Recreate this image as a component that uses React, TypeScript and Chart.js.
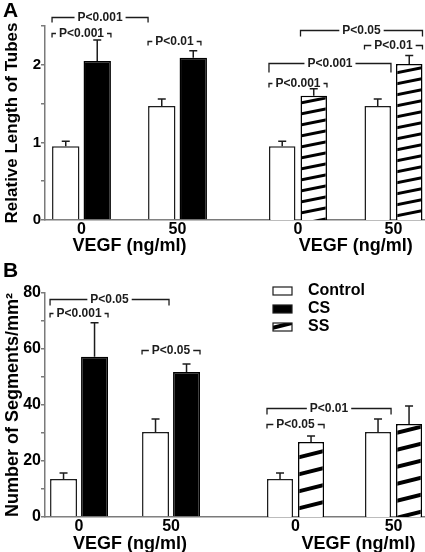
import React, { useEffect, useRef } from "react";
import { Chart, registerables } from "chart.js";

Chart.register(...registerables);

// ---------- data ----------
const DOSES = ["0", "50"];
const SERIES_NAMES = ["Control", "CS", "SS"];
const X_TITLE = "VEGF (ng/ml)";

// Panel A: relative length of tubes
const TUBES_CONTROL = [0.95, 1.47];
const TUBES_CONTROL_ERR = [0.065, 0.09];
const TUBES_CS = [2.05, 2.09];
const TUBES_CS_ERR = [0.27, 0.09];
const TUBES_SS = [1.6, 2.01];
const TUBES_SS_ERR = [0.09, 0.11];
const TUBES_LABELLED_TICKS = [0, 1, 2];

// Panel B: number of segments / mm2
const SEG_CONTROL = [13.6, 30.4];
const SEG_CONTROL_ERR = [2.1, 4.6];
const SEG_CS = [57.2, 51.8];
const SEG_CS_ERR = [12.2, 2.8];
const SEG_SS = [26.8, 33.2];
const SEG_SS_ERR = [2.1, 6.4];
const SEG_LABELLED_TICKS = [0, 20, 40, 60, 80];

// significance brackets: [datasetIndex, doseIndex, fraction across bar]
type Ref = [number, number, number];
type Bracket = { text: string; from: Ref; to: Ref; level: number; drop: number };

const BRACKETS_A_CS: Bracket[] = [
  { text: "P<0.001", from: [0, 0, 0], to: [0, 1, 0], level: 2.615, drop: 5 },
  { text: "P<0.001", from: [0, 0, 0], to: [1, 0, 1], level: 2.41, drop: 4 },
  { text: "P<0.01", from: [0, 1, 0], to: [1, 1, 0.78], level: 2.31, drop: 4 },
];
const BRACKETS_A_SS: Bracket[] = [
  { text: "P<0.05", from: [1, 0, 0], to: [1, 1, 1], level: 2.45, drop: 6 },
  { text: "P<0.01", from: [0, 1, 0], to: [1, 1, 1], level: 2.26, drop: 4 },
  { text: "P<0.001", from: [0, 0, 0], to: [0, 1, 1], level: 2.02, drop: 9 },
  { text: "P<0.001", from: [0, 0, 0], to: [1, 0, 1], level: 1.77, drop: 4 },
];
const BRACKETS_B_CS: Bracket[] = [
  { text: "P<0.05", from: [0, 0, 0], to: [0, 1, 1], level: 77.9, drop: 6 },
  { text: "P<0.001", from: [0, 0, 0], to: [1, 0, 1], level: 72.9, drop: 4 },
  { text: "P<0.05", from: [0, 1, 0], to: [1, 1, 1], level: 59.6, drop: 4 },
];
const BRACKETS_B_SS: Bracket[] = [
  { text: "P<0.01", from: [0, 0, 0], to: [0, 1, 1], level: 38.9, drop: 6 },
  { text: "P<0.05", from: [0, 0, 0], to: [1, 0, 1], level: 33.2, drop: 4 },
];

// ---------- style ----------
const FONT = "'Liberation Sans', Arial, Helvetica, sans-serif";
const AXIS = "#7a7a7a";
const INK = "#1c1c1c";

type Kind = "control" | "cs" | "ss";
type Series = { name: string; kind: Kind; values: number[]; errors: number[] };

interface Spec {
  left: number; top: number; width: number; height: number;
  padTop: number; xHeight: number; yWidth: number;
  xMin: number; xMax: number; catPct: number; barPct: number;
  yMax: number; yStep: number; yLabelled: number[];
  yTitle?: string; yTitleSize: number; yTickSize: number;
  series: Series[]; brackets: Bracket[];
  letter?: string; titleDx: number; titleBaseline: number;
  hatch: { spacing: number; w: number; thick: number };
  legend?: boolean;
}

function makeHatch(spacing: number, w: number, thick: number) {
  const c = document.createElement("canvas");
  c.width = w;
  c.height = spacing;
  const g = c.getContext("2d")!;
  g.fillStyle = "#fff";
  g.fillRect(0, 0, w, spacing);
  g.strokeStyle = "#000";
  g.lineWidth = thick;
  const s = spacing / w;
  for (let k = -1; k <= 2; k++) {
    const y0 = k * spacing + spacing / 2;
    g.beginPath();
    g.moveTo(-4, y0 + 4 * s);
    g.lineTo(w + 4, y0 - spacing - 4 * s);
    g.stroke();
  }
  return g.createPattern(c, "repeat")!;
}

const SPECS: Spec[] = [
  {
    left: 0, top: 0, width: 238, height: 260, padTop: 26, xHeight: 40, yWidth: 45,
    xMin: -0.38, xMax: 1.63, catPct: 0.656, barPct: 0.87,
    yMax: 2.5, yStep: 0.5, yLabelled: TUBES_LABELLED_TICKS,
    yTitle: "Relative Length of Tubes", yTitleSize: 17, yTickSize: 15,
    series: [
      { name: SERIES_NAMES[0], kind: "control", values: TUBES_CONTROL, errors: TUBES_CONTROL_ERR },
      { name: SERIES_NAMES[1], kind: "cs", values: TUBES_CS, errors: TUBES_CS_ERR },
    ],
    brackets: BRACKETS_A_CS, letter: "A", titleDx: 0, titleBaseline: 251,
    hatch: { spacing: 11, w: 55, thick: 3 },
  },
  {
    left: 238, top: 0, width: 187, height: 260, padTop: 26, xHeight: 40, yWidth: 0,
    xMin: -0.628, xMax: 1.33, catPct: 0.66, barPct: 0.84,
    yMax: 2.5, yStep: 0.5, yLabelled: TUBES_LABELLED_TICKS,
    yTitleSize: 17, yTickSize: 15,
    series: [
      { name: SERIES_NAMES[0], kind: "control", values: TUBES_CONTROL, errors: TUBES_CONTROL_ERR },
      { name: SERIES_NAMES[2], kind: "ss", values: TUBES_SS, errors: TUBES_SS_ERR },
    ],
    brackets: BRACKETS_A_SS, titleDx: 10, titleBaseline: 251,
    hatch: { spacing: 11, w: 55, thick: 3 },
  },
  {
    left: 0, top: 260, width: 238, height: 292, padTop: 33, xHeight: 35, yWidth: 45,
    xMin: -0.37, xMax: 1.728, catPct: 0.674, barPct: 0.87,
    yMax: 80, yStep: 10, yLabelled: SEG_LABELLED_TICKS,
    yTitle: "Number of Segments/mm\u00B2", yTitleSize: 18, yTickSize: 16,
    series: [
      { name: SERIES_NAMES[0], kind: "control", values: SEG_CONTROL, errors: SEG_CONTROL_ERR },
      { name: SERIES_NAMES[1], kind: "cs", values: SEG_CS, errors: SEG_CS_ERR },
    ],
    brackets: BRACKETS_B_CS, letter: "B", titleDx: 5, titleBaseline: 289,
    hatch: { spacing: 17, w: 68, thick: 4 },
  },
  {
    left: 238, top: 260, width: 187, height: 292, padTop: 33, xHeight: 35, yWidth: 0,
    xMin: -0.587, xMax: 1.321, catPct: 0.633, barPct: 0.84,
    yMax: 80, yStep: 10, yLabelled: SEG_LABELLED_TICKS,
    yTitleSize: 18, yTickSize: 16,
    series: [
      { name: SERIES_NAMES[0], kind: "control", values: SEG_CONTROL, errors: SEG_CONTROL_ERR },
      { name: SERIES_NAMES[2], kind: "ss", values: SEG_SS, errors: SEG_SS_ERR },
    ],
    brackets: BRACKETS_B_SS, titleDx: 14, titleBaseline: 289,
    hatch: { spacing: 17, w: 68, thick: 4 },
    legend: true,
  },
];

function fillFor(kind: Kind, hatch: CanvasPattern) {
  if (kind === "control") return "#ffffff";
  if (kind === "cs") return "#000000";
  return hatch;
}

function PanelChart({ spec }: { spec: Spec }) {
  const ref = useRef<HTMLCanvasElement | null>(null);

  useEffect(() => {
    const canvas = ref.current;
    if (!canvas) return;
    const hatch = makeHatch(spec.hatch.spacing, spec.hatch.w, spec.hatch.thick);

    const barEdge = (chart: any, r: Ref) => {
      const bar: any = chart.getDatasetMeta(r[0]).data[r[1]];
      const { x, width } = bar.getProps(["x", "width"], true);
      return x - width / 2 + width * r[2];
    };

    const decor = {
      id: "decor",
      afterDatasetsDraw(chart: any) {
        const ctx = chart.ctx as CanvasRenderingContext2D;
        const ys = chart.scales.y;
        ctx.save();
        // error bars
        ctx.strokeStyle = INK;
        ctx.lineWidth = 1.5;
        spec.series.forEach((s, di) => {
          chart.getDatasetMeta(di).data.forEach((bar: any, i: number) => {
            const { x, y } = bar.getProps(["x", "y"], true);
            const top = ys.getPixelForValue(s.values[i] + s.errors[i]);
            ctx.beginPath();
            ctx.moveTo(x, y);
            ctx.lineTo(x, top);
            ctx.moveTo(x - 4, top);
            ctx.lineTo(x + 4, top);
            ctx.stroke();
          });
        });
        // significance brackets
        ctx.font = `bold 12px ${FONT}`;
        ctx.textAlign = "center";
        ctx.textBaseline = "middle";
        ctx.lineWidth = 1.3;
        ctx.fillStyle = INK;
        spec.brackets.forEach((b) => {
          const x1 = barEdge(chart, b.from);
          const x2 = barEdge(chart, b.to);
          const y = Math.round(ys.getPixelForValue(b.level)) + 0.5;
          const cx = (x1 + x2) / 2;
          const tw = ctx.measureText(b.text).width;
          const gap = 3;
          ctx.beginPath();
          ctx.moveTo(x1, y + b.drop);
          ctx.lineTo(x1, y);
          ctx.lineTo(Math.max(x1, cx - tw / 2 - gap), y);
          ctx.moveTo(Math.min(x2, cx + tw / 2 + gap), y);
          ctx.lineTo(x2, y);
          ctx.lineTo(x2, y + b.drop);
          ctx.stroke();
          ctx.fillText(b.text, cx, y + 0.5);
        });
        ctx.restore();
      },
      afterDraw(chart: any) {
        const ctx = chart.ctx as CanvasRenderingContext2D;
        const xs = chart.scales.x;
        ctx.save();
        ctx.fillStyle = "#000";
        // x title
        ctx.font = `bold 18px ${FONT}`;
        ctx.textAlign = "center";
        ctx.textBaseline = "alphabetic";
        const cx = (xs.getPixelForValue(0) + xs.getPixelForValue(DOSES.length - 1)) / 2 + spec.titleDx;
        ctx.fillText(X_TITLE, cx, spec.titleBaseline);
        // panel letter
        if (spec.letter) {
          ctx.font = `bold 21px ${FONT}`;
          ctx.textAlign = "left";
          ctx.fillText(spec.letter, 3, 17);
        }
        // legend
        if (spec.legend) {
          const kinds: Kind[] = ["control", "cs", "ss"];
          ctx.font = `bold 16px ${FONT}`;
          ctx.textAlign = "left";
          ctx.textBaseline = "middle";
          kinds.forEach((k, i) => {
            const cy = 31 + i * 18;
            ctx.fillStyle = fillFor(k, hatch) as any;
            ctx.fillRect(35, cy - 4, 19, 8);
            ctx.strokeStyle = INK;
            ctx.lineWidth = 1.2;
            ctx.strokeRect(35, cy - 4, 19, 8);
            ctx.fillStyle = "#000";
            ctx.fillText(SERIES_NAMES[i], 70, cy);
          });
        }
        ctx.restore();
      },
    };

    const chart = new Chart(canvas, {
      type: "bar",
      data: {
        datasets: spec.series.map((s) => ({
          label: s.name,
          data: s.values.map((v, i) => ({ x: i, y: v })),
          backgroundColor: fillFor(s.kind, hatch) as any,
          borderColor: s.kind === "control" ? INK : "#000",
          borderWidth: 1.5,
          categoryPercentage: spec.catPct,
          barPercentage: spec.barPct,
        })),
      },
      options: {
        animation: false,
        responsive: false,
        devicePixelRatio: 1,
        layout: { padding: { top: spec.padTop, left: 0, right: 0, bottom: 0 } },
        plugins: { legend: { display: false }, tooltip: { enabled: false }, title: { display: false } },
        scales: {
          x: {
            type: "linear",
            min: spec.xMin,
            max: spec.xMax,
            offset: false,
            afterBuildTicks: (s: any) => {
              s.ticks = DOSES.map((_, i) => ({ value: i }));
            },
            afterFit: (s: any) => {
              s.height = spec.xHeight;
            },
            ticks: {
              callback: (_v: any, i: number) => DOSES[i] ?? "",
              font: { family: FONT, size: 16, weight: "bold" },
              color: "#000",
              padding: 0,
              maxRotation: 0,
              autoSkip: false,
            },
            grid: { display: false, drawTicks: false },
            border: { display: true, color: AXIS, width: 1.5 },
          },
          y: {
            display: spec.yWidth > 0,
            min: 0,
            max: spec.yMax,
            afterFit: (s: any) => {
              s.width = spec.yWidth;
            },
            ticks: {
              stepSize: spec.yStep,
              callback: (v: any) => (spec.yLabelled.includes(Number(v)) ? String(v) : ""),
              font: { family: FONT, size: spec.yTickSize, weight: "bold" },
              color: "#000",
              padding: 0,
            },
            grid: { display: true, drawOnChartArea: false, drawTicks: true, tickLength: 4, color: AXIS, lineWidth: 1.5 },
            border: { display: true, color: AXIS, width: 1.5 },
            title: {
              display: !!spec.yTitle,
              text: spec.yTitle ?? "",
              font: { family: FONT, size: spec.yTitleSize, weight: "bold" },
              color: "#000",
              padding: { top: 2, bottom: 0 },
            },
          },
        },
      } as any,
      plugins: [decor],
    });
    return () => chart.destroy();
  }, [spec]);

  return (
    <canvas
      ref={ref}
      width={spec.width}
      height={spec.height}
      style={{ position: "absolute", left: spec.left, top: spec.top, width: spec.width, height: spec.height }}
    />
  );
}

export default function App() {
  return (
    <div style={{ position: "fixed", left: 0, top: 0, width: 425, height: 552, background: "#fff", overflow: "hidden" }}>
      {SPECS.map((s, i) => (
        <PanelChart key={i} spec={s} />
      ))}
    </div>
  );
}
